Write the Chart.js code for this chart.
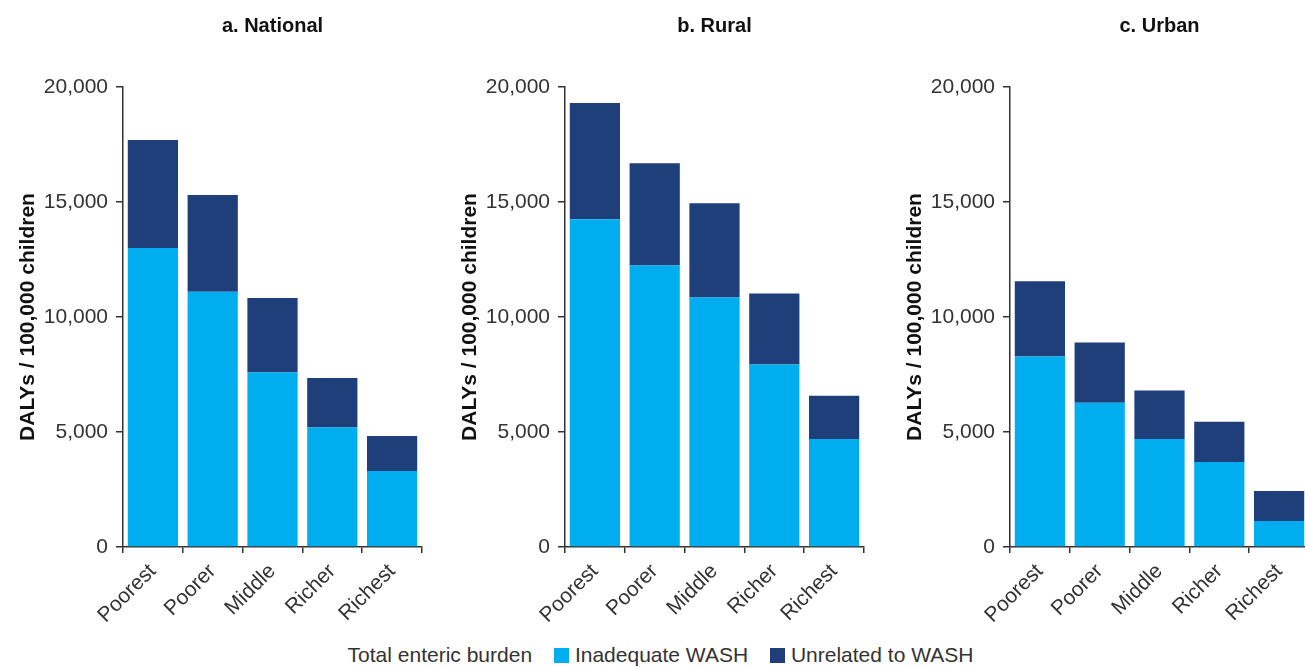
<!DOCTYPE html>
<html>
<head>
<meta charset="utf-8">
<script src="https://cdn.jsdelivr.net/npm/chart.js@4/dist/chart.umd.min.js"></script>
<style>
  html, body { margin: 0; padding: 0; background: #fff; overflow: hidden; }
  body { width: 1305px; height: 667px; position: relative; font-family: "Liberation Sans", Arial, sans-serif; }
  .panel { position: absolute; top: 0; width: 430px; height: 635px; }
  .legend { position: absolute; left: 0; right: 0; top: 643px; padding-left: 16px; text-align: center; font-size: 21px; color: #333; white-space: nowrap; }
  .legend .box { display: inline-block; width: 15px; height: 15px; margin: 0 6px 0 16px; vertical-align: -1px; }
</style>
</head>
<body>
<div class="panel" style="left:0px"><canvas id="Chart1"></canvas></div>
<div class="panel" style="left:442px"><canvas id="Chart2"></canvas></div>
<div class="panel" style="left:887px"><canvas id="Chart3"></canvas></div>
<div class="legend">Total enteric burden <span class="box" style="background:#00aeef"></span>Inadequate WASH <span class="box" style="background:#1f3f7b"></span>Unrelated to WASH</div>

<script>
const categories = ['Poorest', 'Poorer', 'Middle', 'Richer', 'Richest']

const nationalWash = [13000, 11100, 7600, 5200, 3300]
const nationalOther = [4700, 4200, 3230, 2150, 1530]

const ruralWash = [14250, 12240, 10850, 7930, 4700]
const ruralOther = [5050, 4450, 4100, 3090, 1880]

const urbanWash = [8280, 6270, 4700, 3700, 1130]
const urbanOther = [3270, 2620, 2100, 1750, 1310]

const washColor = '#00aeef'
const otherColor = '#1f3f7b'
const inkColor = '#333333'
const fontFamily = '"Liberation Sans", Arial, sans-serif'

// panel heading centred over the plot area
const panelTitle = {
    id: 'panelTitle',
    afterDraw(chart, args, opts) {
        const {ctx, chartArea} = chart
        ctx.save()
        ctx.font = 'bold 20px ' + fontFamily
        ctx.fillStyle = '#111'
        ctx.textAlign = 'center'
        ctx.textBaseline = 'middle'
        ctx.fillText(opts.text, (chartArea.left + chartArea.right) / 2, 26)
        ctx.restore()
    }
}

const renderPanel = (id, title, wash, other) => {
    const data = {
        labels: categories,
        datasets: [{
            label: 'Inadequate WASH',
            data: wash,
            backgroundColor: washColor
        }, {
            label: 'Unrelated to WASH',
            data: other,
            backgroundColor: otherColor
        }]
    }
    new Chart(id, {
        type: 'bar',
        data,
        plugins: [panelTitle],
        options: {
            responsive: true,
            maintainAspectRatio: false,
            animation: false,
            datasets: {bar: {categoryPercentage: 1, barPercentage: 0.84}},
            layout: {padding: {top: 87, left: 16, right: 8, bottom: 0}},
            plugins: {
                legend: {display: false},
                tooltip: {enabled: false},
                panelTitle: {text: title}
            },
            scales: {
                x: {
                    stacked: true,
                    border: {display: true, color: inkColor, width: 1.5},
                    grid: {display: true, drawOnChartArea: false, drawTicks: true, tickLength: 6, color: inkColor, lineWidth: 1.5},
                    ticks: {
                        color: inkColor,
                        font: {family: fontFamily, size: 21},
                        minRotation: 45,
                        maxRotation: 45,
                        padding: 6
                    },
                    afterFit: s => { s.height = 88 }
                },
                y: {
                    stacked: true,
                    min: 0,
                    max: 20000,
                    border: {display: true, color: inkColor, width: 1.5},
                    grid: {display: true, drawOnChartArea: false, drawTicks: true, tickLength: 7, color: inkColor, lineWidth: 1.5},
                    ticks: {
                        stepSize: 5000,
                        color: inkColor,
                        padding: 8,
                        font: {family: fontFamily, size: 21}
                    },
                    title: {
                        display: true,
                        text: 'DALYs / 100,000 children',
                        color: '#111',
                        padding: {top: 0, bottom: 0},
                        font: {family: fontFamily, size: 21, weight: 'bold'}
                    },
                    afterFit: s => { s.width = 107 }
                }
            }
        }
    })
}

const printCharts = () => {
    renderPanel('Chart1', 'a. National', nationalWash, nationalOther)
    renderPanel('Chart2', 'b. Rural', ruralWash, ruralOther)
    renderPanel('Chart3', 'c. Urban', urbanWash, urbanOther)
}

printCharts()
</script>
</body>
</html>
